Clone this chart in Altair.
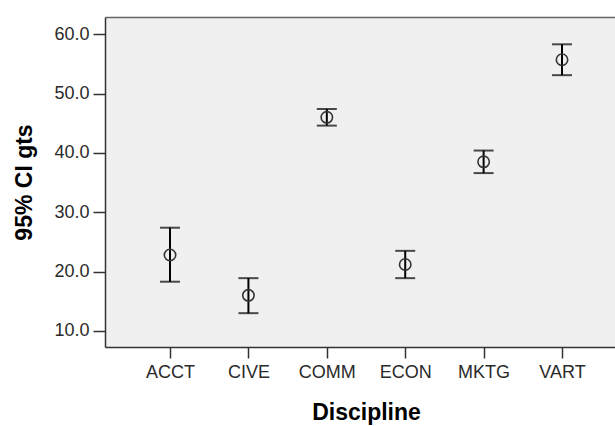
import altair as alt
import pandas as pd

disciplines = ["ACCT", "CIVE", "COMM", "ECON", "MKTG", "VART"]
means = [22.8, 16.0, 46.0, 21.2, 38.5, 55.7]
lowers = [18.3, 13.0, 44.6, 18.9, 36.6, 53.1]
uppers = [27.4, 18.9, 47.4, 23.5, 40.4, 58.3]
y_ticks = [10, 20, 30, 40, 50, 60]

df = pd.DataFrame({"Discipline": disciplines, "mean": means, "lower": lowers, "upper": uppers})

FONT = "Liberation Sans"
x_scale = alt.Scale(type="point", padding=0.7526, align=0.551)

x_enc = alt.X(
    "Discipline:N",
    sort=disciplines,
    scale=x_scale,
    axis=alt.Axis(
        title="Discipline",
        labelAngle=0,
        labelFont=FONT,
        labelFontSize=18,
        labelColor="#2a2a2a",
        labelPadding=5,
        tickSize=11,
        tickWidth=1.5,
        tickColor="#333333",
        domain=True,
        domainColor="#333333",
        domainWidth=1.5,
        grid=False,
        titleFont=FONT,
        titleFontSize=23,
        titleFontWeight="bold",
        titleColor="#000000",
        titleBaseline="alphabetic",
        titleY=72,
        titleX=261,
    ),
)

x_top = alt.X(
    "Discipline:N",
    sort=disciplines,
    scale=x_scale,
    axis=alt.Axis(
        orient="top",
        title=None,
        labels=False,
        ticks=False,
        grid=False,
        domain=True,
        domainColor="#666666",
        domainWidth=1.5,
    ),
)

x_none = alt.X("Discipline:N", sort=disciplines, scale=x_scale, axis=None)

y_scale = alt.Scale(domain=[7.3, 62.9], nice=False, zero=False)
y_axis = alt.Axis(
    title="95% CI gts",
    values=y_ticks,
    format=".1f",
    labelFont=FONT,
    labelFontSize=18,
    labelColor="#2a2a2a",
    labelPadding=4,
    tickSize=12,
    tickWidth=1.5,
    tickColor="#333333",
    domain=True,
    domainColor="#333333",
    domainWidth=1.5,
    grid=False,
    titleFont=FONT,
    titleFontSize=23,
    titleFontWeight="bold",
    titleColor="#000000",
    titleBaseline="alphabetic",
    titleAngle=-90,
    titleX=-74,
)

base = alt.Chart(df)

rules = base.mark_rule(color="#000000", strokeWidth=2).encode(
    x=x_enc,
    y=alt.Y("lower:Q", scale=y_scale, axis=y_axis),
    y2="upper:Q",
)
cap_lo = base.mark_tick(color="#000000", size=20, thickness=2).encode(
    x=x_none,
    y=alt.Y("lower:Q"),
)
cap_hi = base.mark_tick(color="#000000", size=20, thickness=2).encode(
    x=x_none,
    y=alt.Y("upper:Q"),
)
points = base.mark_point(shape="circle", filled=False, color="#333333", strokeWidth=1.6, size=130, opacity=1).encode(
    x=x_top,
    y=alt.Y("mean:Q"),
)

chart = (
    alt.layer(rules, cap_lo, cap_hi, points)
    .resolve_axis(x="independent")
    .properties(
        width=510,
        height=330,
        autosize=alt.AutoSizeParams(type="none"),
        padding={"left": 105, "top": 17, "right": 0, "bottom": 79},
        background="#ffffff",
    )
    .configure_view(fill="#f0f0f0", stroke=None)
)

chart.save("out.html", embed_options={"renderer": "svg", "actions": False})
